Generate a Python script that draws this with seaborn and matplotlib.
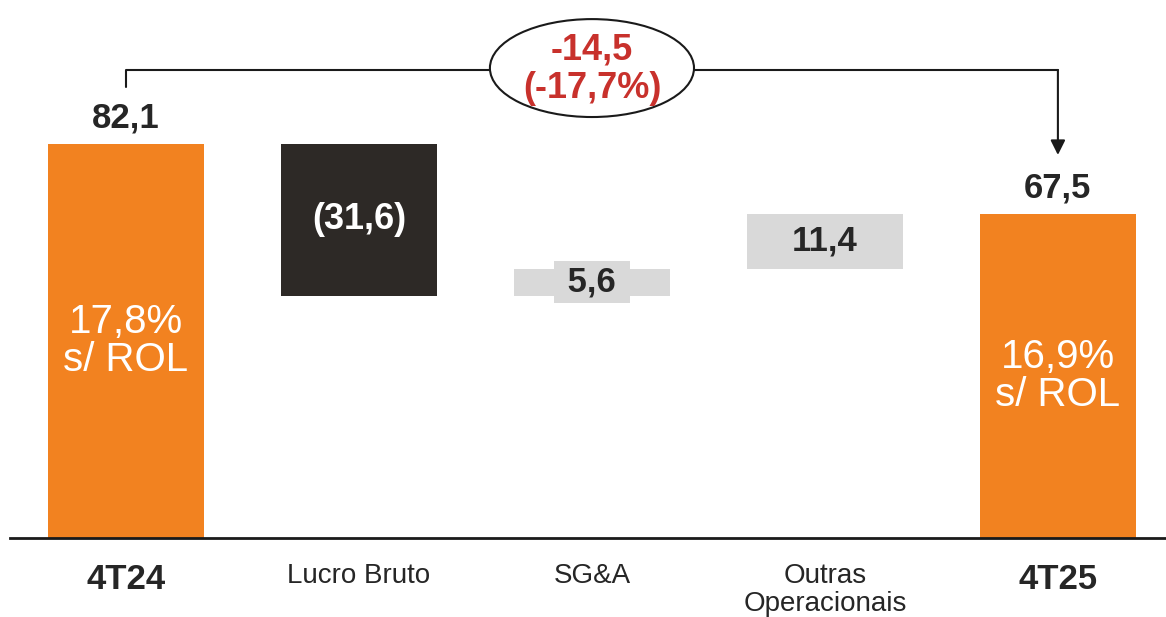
import numpy as np
import pandas as pd
import matplotlib.pyplot as plt
import seaborn as sns
from matplotlib.patches import Ellipse

sns.set_theme(style="white")
plt.rcParams['font.family'] = ['Liberation Sans', 'DejaVu Sans']

# dados (R$ milhões)
categorias = ["4T24", "Lucro Bruto", "SG&A", "Outras\nOperacionais", "4T25"]
inicio = 82.1
variacoes = [-31.6, 5.6, 11.4]
fim = 67.5
rol = ["17,8%", "16,9%"]
var_abs = -14.5
var_pct = -17.7

laranja = "#F28220"
escuro = "#2D2926"
cinza = "#D9D9D9"
vermelho = "#C8312C"
texto = "#262626"

def fmt(v):
    return f"{v:.1f}".replace(".", ",")

# monta barras flutuantes
acum = np.cumsum([inicio] + variacoes)
alturas = [inicio] + [abs(v) for v in variacoes] + [fim]
bases = [0] + [min(acum[i], acum[i + 1]) for i in range(len(variacoes))] + [0]
cores = [laranja, escuro, cinza, cinza, laranja]
df = pd.DataFrame({"cat": categorias, "altura": alturas})

fig = plt.figure(figsize=(11.66, 6.17), dpi=100)
ax = fig.add_axes([10 / 1166, 79 / 617, 1156 / 1166, 538 / 617])

sns.barplot(data=df, x="cat", y="altura", bottom=bases, width=0.67,
            color=laranja, ax=ax, order=categorias)
for p, c in zip(ax.patches, cores):
    p.set_facecolor(c)
    p.set_edgecolor("none")

ax.set_xlim(-0.498, 4.464)
ax.set_ylim(0, 112.08)

for s in ["top", "left", "right"]:
    ax.spines[s].set_visible(False)
ax.spines["bottom"].set_color("#1a1a1a")
ax.spines["bottom"].set_linewidth(2)
ax.set_yticks([])
ax.set_xlabel("")
ax.set_ylabel("")
ax.tick_params(axis="x", length=0, pad=18)
ax.set_xticks(range(5))
ax.set_xticklabels(categorias, fontsize=20, color=texto, va="top", linespacing=1.12)
for i in (0, 4):
    ax.get_xticklabels()[i].set_fontweight("bold")
    ax.get_xticklabels()[i].set_fontsize(25)

# rótulos
ax.text(0, inicio + 5.5, fmt(inicio), ha="center", va="center",
        fontsize=25, fontweight="bold", color=texto)
ax.text(4, fim + 5.5, fmt(fim), ha="center", va="center",
        fontsize=25, fontweight="bold", color=texto)
ax.text(0, inicio / 2, rol[0] + "\ns/ ROL", ha="center", va="center",
        fontsize=29, color="white", linespacing=1.02)
ax.text(4, fim / 2, rol[1] + "\ns/ ROL", ha="center", va="center",
        fontsize=29, color="white", linespacing=1.02)

ax.text(1, bases[1] + alturas[1] / 2, "(" + fmt(abs(variacoes[0])) + ")",
        ha="center", va="center", fontsize=26, fontweight="bold", color="white")
ax.text(2, bases[2] + alturas[2] / 2, " " + fmt(variacoes[1]) + " ", ha="center",
        va="center", fontsize=25, fontweight="bold", color=texto,
        bbox=dict(boxstyle="square,pad=0.12", fc=cinza, ec="none"))
ax.text(3, bases[3] + alturas[3] / 2, fmt(variacoes[2]), ha="center", va="center",
        fontsize=25, fontweight="bold", color=texto)

# colchete com seta
ax.plot([0, 0, 4], [94, 97.5, 97.5], color="#1a1a1a", lw=1.5, clip_on=False)
ax.annotate("", xy=(4, 79.8), xytext=(4, 97.5),
            arrowprops=dict(arrowstyle="-|>", color="#1a1a1a", lw=1.5,
                            mutation_scale=22, shrinkA=0, shrinkB=0))
ax.add_patch(Ellipse((2, 97.9), 0.876, 20.4, fc="white", ec="#1a1a1a",
                     lw=1.5, zorder=5, clip_on=False))
ax.text(2, 97.7, fmt(var_abs) + "\n(" + fmt(var_pct) + "%)", ha="center",
        va="center", fontsize=26, fontweight="bold", color=vermelho,
        linespacing=1.12, zorder=6)

fig.savefig("out.png", dpi=100)
